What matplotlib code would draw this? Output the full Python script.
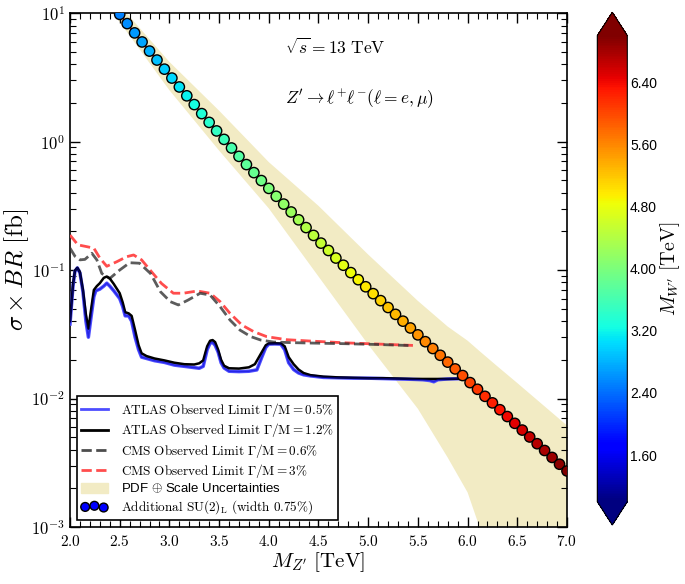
import matplotlib
matplotlib.use("Agg")
import matplotlib.pyplot as plt
import matplotlib.patches as mpatches
from matplotlib.lines import Line2D
import numpy as np

plt.rcParams["font.family"] = "serif"
plt.rcParams["font.serif"] = ["cmr10"]
plt.rcParams["mathtext.fontset"] = "cm"
plt.rcParams["axes.formatter.use_mathtext"] = True

# --- datos: prediccion del modelo (puntos) ---
mz_puntos = [2.500, 2.575, 2.650, 2.725, 2.800, 2.875, 2.950, 3.025, 3.100, 3.175,
             3.250, 3.325, 3.400, 3.475, 3.550, 3.625, 3.700, 3.775, 3.850, 3.925,
             4.000, 4.075, 4.150, 4.225, 4.300, 4.375, 4.450, 4.525, 4.600, 4.675,
             4.750, 4.825, 4.900, 4.975, 5.050, 5.125, 5.200, 5.275, 5.350, 5.425,
             5.500, 5.575, 5.650, 5.725, 5.800, 5.875, 5.950, 6.025, 6.100, 6.175,
             6.250, 6.325, 6.400, 6.475, 6.550, 6.625, 6.700, 6.775, 6.850, 6.925,
             7.000]
sigma_puntos = [9.77, 8.28, 7.01, 5.96, 5.06, 4.31, 3.66, 3.12, 2.66, 2.27,
                1.94, 1.65, 1.41, 1.21, 1.04, 0.891, 0.767, 0.662, 0.573, 0.497,
                0.432, 0.375, 0.326, 0.283, 0.246, 0.214, 0.186, 0.162, 0.142, 0.124,
                0.109, 0.0955, 0.0841, 0.0741, 0.0655, 0.0578, 0.0511, 0.0452, 0.0400, 0.0354,
                0.0313, 0.0277, 0.0245, 0.0217, 0.0192, 0.0170, 0.0151, 0.0133, 0.0118, 0.0104,
                0.00925, 0.00818, 0.00724, 0.00641, 0.00568, 0.00502, 0.00445, 0.00394, 0.00348, 0.00308,
                0.00273]
mw_puntos = mz_puntos  # masa del W' usada para el color

# --- banda de incertidumbre PDF + escala ---
mz_banda = [2.4, 2.5, 3.0, 3.5, 4.0, 4.5, 5.0, 5.5, 5.8, 6.0, 6.12, 6.3, 6.5, 7.0]
banda_baja = [10.7, 8.51, 2.51, 0.851, 0.302, 0.0891, 0.0263, 0.00832, 0.00347,
              0.00186, 0.001, 0.0004, 0.00025, 0.0001]
banda_alta = [14.5, 11.5, 4.17, 1.74, 0.692, 0.316, 0.132, 0.0575, 0.0363,
              0.0282, 0.0234, 0.0178, 0.0132, 0.00617]

# --- ATLAS Gamma/M = 0.5% ---
atlas05_x = [2.00, 2.03, 2.05, 2.074, 2.10, 2.13, 2.16, 2.185, 2.21, 2.24, 2.26, 2.30,
             2.34, 2.37, 2.40, 2.44, 2.50, 2.53, 2.555, 2.59, 2.62, 2.655, 2.69, 2.72,
             2.77, 2.85, 2.95, 3.05, 3.15, 3.25, 3.30, 3.34, 3.38, 3.41, 3.435, 3.46,
             3.49, 3.52, 3.55, 3.60, 3.70, 3.80, 3.88, 3.93, 3.97, 4.00, 4.06, 4.12,
             4.16, 4.20, 4.25, 4.30, 4.35, 4.42, 4.55, 4.70, 4.85, 5.00, 5.15, 5.30,
             5.45, 5.55, 5.62, 5.66, 5.70, 5.80, 5.97]
atlas05_y = [0.038, 0.075, 0.098, 0.104, 0.095, 0.068, 0.040, 0.030, 0.042, 0.062, 0.069, 0.071,
             0.075, 0.079, 0.075, 0.069, 0.060, 0.052, 0.044, 0.044, 0.040, 0.030, 0.024, 0.021,
             0.0205, 0.0197, 0.0191, 0.0182, 0.0178, 0.0174, 0.0172, 0.0178, 0.024, 0.027, 0.0273, 0.026,
             0.023, 0.019, 0.0173, 0.0163, 0.0162, 0.0163, 0.0167, 0.021, 0.025, 0.0265, 0.0266, 0.0265,
             0.024, 0.019, 0.0168, 0.0158, 0.0153, 0.0150, 0.0146, 0.0145, 0.0144, 0.0144, 0.0143, 0.0142,
             0.0141, 0.0140, 0.0138, 0.0135, 0.0140, 0.0142, 0.0143]

# --- ATLAS Gamma/M = 1.2% ---
atlas12_x = [2.00, 2.03, 2.05, 2.074, 2.10, 2.13, 2.16, 2.185, 2.21, 2.24, 2.27, 2.30,
             2.34, 2.37, 2.40, 2.44, 2.50, 2.53, 2.555, 2.59, 2.62, 2.655, 2.69, 2.72,
             2.77, 2.85, 2.95, 3.05, 3.15, 3.25, 3.30, 3.34, 3.38, 3.41, 3.435, 3.46,
             3.49, 3.52, 3.55, 3.60, 3.70, 3.80, 3.86, 3.93, 3.97, 4.00, 4.06, 4.12,
             4.16, 4.20, 4.25, 4.30, 4.35, 4.42, 4.55, 4.70, 4.85, 5.00, 5.15, 5.30,
             5.45, 5.60, 5.80, 5.97]
atlas12_y = [0.040, 0.077, 0.099, 0.104, 0.096, 0.070, 0.045, 0.035, 0.048, 0.070, 0.075, 0.079,
             0.087, 0.089, 0.086, 0.078, 0.066, 0.056, 0.047, 0.046, 0.044, 0.034, 0.026, 0.0225,
             0.0214, 0.0205, 0.0198, 0.0190, 0.0185, 0.0184, 0.0188, 0.0198, 0.0255, 0.0282, 0.0285, 0.0275,
             0.024, 0.020, 0.0180, 0.0172, 0.0171, 0.0175, 0.0185, 0.023, 0.026, 0.0268, 0.0269, 0.0268,
             0.0255, 0.021, 0.0185, 0.0168, 0.0158, 0.0152, 0.0148, 0.0146, 0.0145, 0.0144, 0.0144, 0.0143,
             0.0142, 0.0142, 0.0142, 0.0143]

# --- CMS Gamma/M = 0.6% ---
cms06_x = [2.00, 2.05, 2.10, 2.15, 2.22, 2.27, 2.32, 2.40, 2.50, 2.60, 2.70, 2.81,
           2.91, 3.01, 3.09, 3.19, 3.31, 3.41, 3.51, 3.61, 3.71, 3.82, 3.92, 4.05,
           4.25, 4.45, 4.78, 5.12, 5.45]
cms06_y = [0.148, 0.128, 0.120, 0.121, 0.135, 0.120, 0.094, 0.086, 0.100, 0.114, 0.113, 0.094,
           0.0678, 0.0567, 0.0535, 0.0585, 0.066, 0.0638, 0.0519, 0.0408, 0.0341, 0.0303, 0.0285, 0.0275,
           0.0272, 0.0270, 0.0267, 0.0263, 0.0258]

# --- CMS Gamma/M = 3% ---
cms3_x = [2.00, 2.08, 2.17, 2.24, 2.30, 2.37, 2.47, 2.57, 2.64, 2.72, 2.82, 2.92,
          3.04, 3.14, 3.28, 3.41, 3.51, 3.61, 3.73, 3.85, 3.98, 4.18, 4.42, 4.78,
          5.12, 5.45]
cms3_y = [0.187, 0.157, 0.152, 0.148, 0.124, 0.107, 0.116, 0.127, 0.131, 0.120, 0.097, 0.0787,
          0.066, 0.066, 0.0687, 0.066, 0.0568, 0.046, 0.0373, 0.0331, 0.0303, 0.0287, 0.0280, 0.0271,
          0.0265, 0.0259]

fig = plt.figure(figsize=(6.85, 5.84), dpi=100)
ax = fig.add_axes([0.1022, 0.0976, 0.7255, 0.880])

color_banda = "#f2ebc4"
ax.fill_between(mz_banda, banda_baja, banda_alta, color=color_banda, lw=0, zorder=1)

ax.plot(cms3_x, cms3_y, "--", color=(1, 0.3, 0.3), lw=2, zorder=3)
ax.plot(cms06_x, cms06_y, "--", color=(0.2, 0.2, 0.2), lw=2, alpha=0.8, zorder=3)
ax.plot(atlas05_x, atlas05_y, "-", color=(0.3, 0.3, 1.0), lw=2.5, zorder=4)
ax.plot(atlas12_x, atlas12_y, "-", color="black", lw=1.8, zorder=4)
ax.plot(atlas05_x, atlas05_y, "-", color="#0000cc", lw=1.0, alpha=0.5, zorder=5)

ax.plot(mz_puntos, sigma_puntos, "-", color="red", lw=1, zorder=6)
sc = ax.scatter(mz_puntos, sigma_puntos, c=mw_puntos, cmap="jet", vmin=1.0, vmax=7.0,
                s=55, edgecolors="black", linewidths=1, zorder=7)

ax.set_yscale("log")
ax.set_xlim(2.0, 7.0)
ax.set_ylim(1e-3, 1e1)
ax.set_xticks(np.arange(2.0, 7.01, 0.5))
ax.set_xticks(np.arange(2.0, 7.01, 0.1), minor=True)
ax.tick_params(which="both", direction="in", top=True, right=True)
ax.tick_params(axis="x", labelsize=11, pad=5)
ax.tick_params(axis="y", labelsize=12)
ax.tick_params(which="major", length=7, width=1)
ax.tick_params(which="minor", length=4, width=0.8)
for s in ax.spines.values():
    s.set_linewidth(1.2)

ax.set_xlabel(r"$M_{Z'}\ [\mathrm{TeV}]$", fontsize=15, labelpad=1)
ax.set_ylabel(r"$\sigma \times BR\ [\mathrm{fb}]$", fontsize=18, labelpad=0)

ax.text(0.433, 0.934, r"$\sqrt{s} = 13\ \mathrm{TeV}$", transform=ax.transAxes,
        fontsize=12.5, va="center")
ax.text(0.433, 0.831, r"$Z' \to \ell^{+}\ell^{-}(\ell = e,\mu)$", transform=ax.transAxes,
        fontsize=12.5, va="center")

# leyenda
h1 = Line2D([], [], color=(0.3, 0.3, 1.0), lw=2)
h2 = Line2D([], [], color="black", lw=2)
h3 = Line2D([], [], color=(0.3, 0.3, 0.3), lw=2, ls="--")
h4 = Line2D([], [], color=(1, 0.3, 0.3), lw=2, ls="--")
h5 = mpatches.Patch(color=color_banda)
h6 = ax.scatter([], [], c="blue", s=40, edgecolors="black", linewidths=1)
etiquetas = [
    r"$\mathrm{ATLAS\ Observed\ Limit\ }\Gamma/\mathrm{M} = 0.5\%$",
    r"$\mathrm{ATLAS\ Observed\ Limit\ }\Gamma/\mathrm{M} = 1.2\%$",
    r"$\mathrm{CMS\ Observed\ Limit\ }\Gamma/\mathrm{M} = 0.6\%$",
    r"$\mathrm{CMS\ Observed\ Limit\ }\Gamma/\mathrm{M} = 3\%$",
    r"PDF $\oplus$ Scale Uncertainties",
    r"$\mathrm{Additional\ SU(2)_L\ (width\ 0.75\%)}$",
]
leg = ax.legend([h1, h2, h3, h4, h5, h6], etiquetas, loc="lower left", fontsize=9.5,
                handlelength=2.0, handletextpad=1.0, labelspacing=0.18, borderpad=0.35,
                scatterpoints=3, fancybox=False, framealpha=1, edgecolor="black",
                borderaxespad=0.5)
leg.get_frame().set_linewidth(1.2)
leg.get_texts()[4].set_family("Liberation Sans")
leg.get_texts()[4].set_fontsize(9.5)

# barra de color
cax = fig.add_axes([0.872, 0.101, 0.0438, 0.878])
cb = fig.colorbar(sc, cax=cax, extend="both", format="%.2f")
cb.set_ticks([1.6, 2.4, 3.2, 4.0, 4.8, 5.6, 6.4])
cb.ax.tick_params(labelsize=10, direction="in", length=0, pad=2)
for lab in cb.ax.get_yticklabels():
    lab.set_family("Liberation Sans")
cb.set_label(r"$M_{W'}\ [\mathrm{TeV}]$", fontsize=14.5, labelpad=1)

fig.savefig("out.png", dpi=100)
